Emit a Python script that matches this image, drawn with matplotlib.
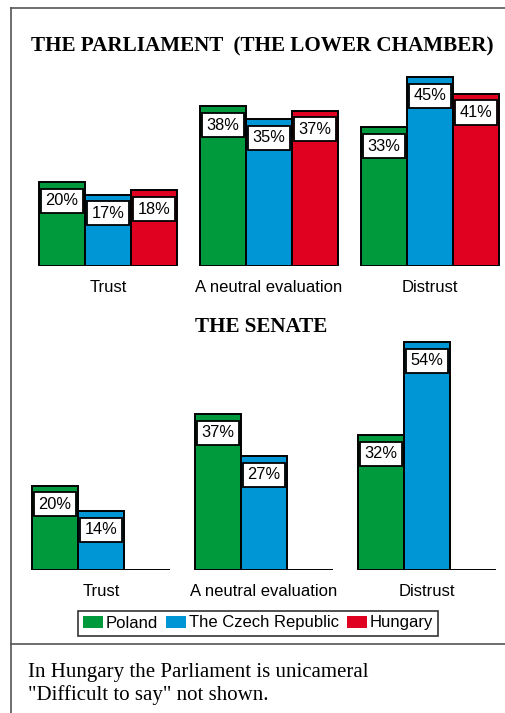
import numpy as np
import matplotlib.pyplot as plt
from matplotlib.patches import Patch
from matplotlib.lines import Line2D

categories = ["Trust", "A neutral evaluation", "Distrust"]
countries = ["Poland", "The Czech Republic", "Hungary"]
colors = ["#009a3c", "#0096d6", "#e0001f"]

parliament = {
    "Poland": [20, 38, 33],
    "The Czech Republic": [17, 35, 45],
    "Hungary": [18, 37, 41],
}
senate = {
    "Poland": [20, 37, 32],
    "The Czech Republic": [14, 27, 54],
    "Hungary": [0, 0, 0],   # no senate in Hungary
}

W, H = 506, 713
fig = plt.figure(figsize=(W / 100, H / 100), dpi=100)
sans = "Liberation Sans"
serif = "Liberation Serif"


def draw_panel(ax, data, start, step):
    bw = 46
    for i, c in enumerate(countries):
        x = np.array([start + bw / 2 + i * bw + g * step for g in range(3)])
        vals = data[c]
        ax.bar(x, vals, width=bw, color=colors[i], edgecolor="black", linewidth=1.4)
        for xi, v in zip(x, vals):
            if v == 0:
                continue
            ax.annotate(f"{v}%", (xi, v), xytext=(0, -13.5), textcoords="offset points",
                        ha="center", va="center", fontsize=11.8, family=sans,
                        bbox=dict(boxstyle="square,pad=0.28", fc="white", ec="black", lw=1.3))
    ax.set_xticks([start + 1.5 * bw + g * step for g in range(3)])
    ax.set_xticklabels(categories, fontsize=12, family=sans)
    ax.tick_params(axis="x", length=0, pad=10)
    ax.set_yticks([])
    ax.set_xlim(0, W)
    for s in ax.spines.values():
        s.set_visible(False)
    ax.patch.set_alpha(0)


# top panel: baseline at pixel 266, 4.2 px per percent
ax1 = fig.add_axes([0, (H - 266) / H, 1, 206 / H])
ax1.set_ylim(0, 206 / 4.2)
draw_panel(ax1, parliament, 39, 161)

ax2 = fig.add_axes([0, (H - 570) / H, 1, 240 / H])
ax2.set_ylim(0, 240 / 4.22)
draw_panel(ax2, senate, 32, 163)

fig.text(262 / W, 1 - 46 / H, "THE PARLIAMENT  (THE LOWER CHAMBER)", ha="center", va="center",
         fontsize=15.2, fontweight="bold", family=serif)
fig.text(261 / W, 1 - 327 / H, "THE SENATE", ha="center", va="center",
         fontsize=15.2, fontweight="bold", family=serif)

# frame lines
fig.add_artist(Line2D([11 / W, 11 / W], [0, 1 - 8 / H], color="#555555", lw=1.2))
fig.add_artist(Line2D([11 / W, 1], [1 - 8 / H, 1 - 8 / H], color="#555555", lw=1.2))
fig.add_artist(Line2D([11 / W, 1], [1 - 644 / H, 1 - 644 / H], color="#555555", lw=1.2))

handles = [Patch(facecolor=c, edgecolor="none") for c in colors]
leg = fig.legend(handles, countries, loc="center", bbox_to_anchor=(258 / W, 1 - 623 / H),
                 ncol=3, frameon=True, fancybox=False, prop={"family": sans, "size": 12},
                 handlelength=1.2, handleheight=0.7, handletextpad=0.15, columnspacing=0.5,
                 borderpad=0.3, borderaxespad=0)
leg.get_frame().set_edgecolor("black")
leg.get_frame().set_linewidth(1.2)

fig.text(28 / W, 1 - 672 / H, "In Hungary the Parliament is unicameral", ha="left", va="center",
         fontsize=15, family=serif)
fig.text(28 / W, 1 - 695 / H, '"Difficult to say" not shown.', ha="left", va="center",
         fontsize=15, family=serif)

fig.savefig("out.png", dpi=100)
